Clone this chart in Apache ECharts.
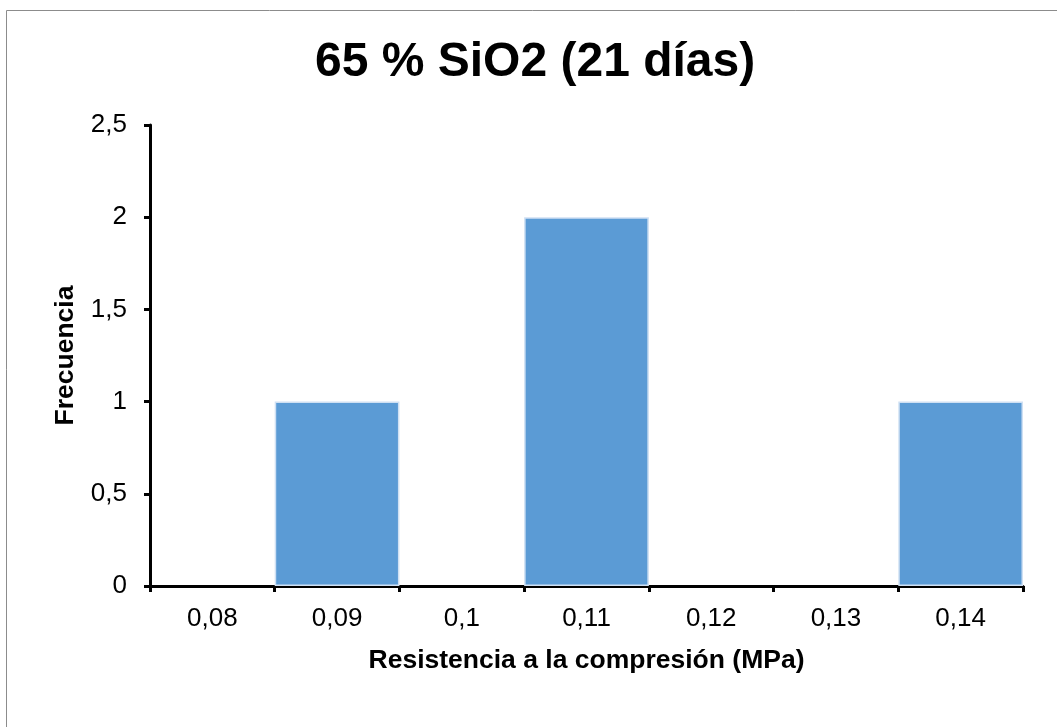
<!DOCTYPE html>
<html>
<head>
<meta charset="utf-8">
<script src="https://cdn.jsdelivr.net/npm/echarts@6/dist/echarts.min.js"></script>
<style>
  html, body { margin: 0; padding: 0; background: #fff; }
  #chart { width: 1057px; height: 727px; }
</style>
</head>
<body>
<div id="chart"></div>
<script>
// Histogram of compressive strength classes and their frequencies
const categories = ['0,08', '0,09', '0,1', '0,11', '0,12', '0,13', '0,14'];
const frequencies = [0, 1, 0, 2, 0, 0, 1];
const yTicks = { min: 0, max: 2.5, interval: 0.5 };

const FONT = '"Liberation Sans", Arial, sans-serif';
const chart = echarts.init(document.getElementById('chart'), null, { renderer: 'canvas' });

chart.setOption({
  backgroundColor: '#ffffff',
  animation: false,
  graphic: [{
    type: 'rect',
    shape: { x: 6.5, y: 10.5, width: 1100, height: 800 },
    style: { fill: 'none', stroke: '#8c8c8c', lineWidth: 1 },
    silent: true
  }],
  title: {
    text: '65 % SiO2 (21 días)',
    left: 310,
    top: 34,
    textStyle: { fontFamily: FONT, fontSize: 48, fontWeight: 'bold', color: '#000' }
  },
  grid: { left: 150, right: 34, top: 125, bottom: 141, containLabel: false },
  xAxis: {
    type: 'category',
    data: categories,
    name: 'Resistencia a la compresión (MPa)',
    nameLocation: 'middle',
    nameGap: 61,
    nameTextStyle: { fontFamily: FONT, fontSize: 26.5, fontWeight: 'bold', color: '#000' },
    axisLine: { lineStyle: { color: '#000', width: 3 } },
    axisTick: { show: true, alignWithLabel: false, length: 6, lineStyle: { color: '#000', width: 3 } },
    axisLabel: { fontFamily: FONT, fontSize: 26, color: '#000', margin: 20 },
    splitLine: { show: false }
  },
  yAxis: {
    type: 'value',
    min: yTicks.min,
    max: yTicks.max,
    interval: yTicks.interval,
    name: 'Frecuencia',
    nameLocation: 'middle',
    nameGap: 71,
    nameRotate: 90,
    nameTextStyle: { fontFamily: FONT, fontSize: 26.5, fontWeight: 'bold', color: '#000' },
    axisLine: { show: true, lineStyle: { color: '#000', width: 3 } },
    axisTick: { show: true, length: 6, lineStyle: { color: '#000', width: 3 } },
    axisLabel: {
      fontFamily: FONT, fontSize: 26, color: '#000', margin: 23,
      formatter: v => String(v).replace('.', ',')
    },
    splitLine: { show: false }
  },
  series: [{
    type: 'bar',
    // empty classes get no outline so nothing shows along the baseline
    data: frequencies.map(v => (v === 0 ? { value: v, itemStyle: { borderWidth: 0 } } : v)),
    barCategoryGap: 0,
    itemStyle: { color: '#5b9bd5', borderColor: '#cfe0f3', borderWidth: 1.5 }
  }]
});
</script>
</body>
</html>
